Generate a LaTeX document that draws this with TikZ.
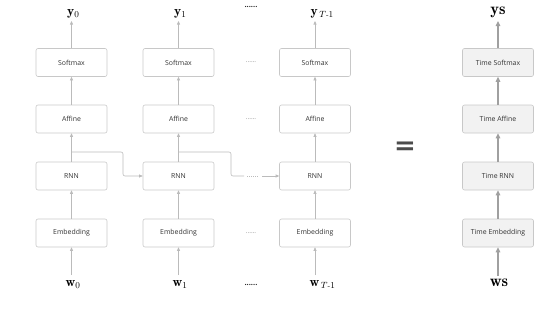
\documentclass[tikz,border=0pt]{standalone}
\usepackage{fontspec}
\setsansfont{Open Sans}
\newfontfamily\eqfont{DejaVu Sans}
\usetikzlibrary{arrows.meta,calc}
\definecolor{boxline}{HTML}{C8C8C8}
\definecolor{arrline}{HTML}{BBBBBB}
\definecolor{tarr}{HTML}{A0A0A0}
\definecolor{tfill}{HTML}{F2F2F2}
\begin{document}
\begin{tikzpicture}[x=1pt,y=-1pt,
  box/.style={draw=boxline,line width=0.6pt,rounded corners=2pt,minimum width=71pt,minimum height=28pt,inner sep=0pt,font=\sffamily\fontsize{6.9}{8}\selectfont,text=black!80},
  tbox/.style={box,fill=tfill},
  arr/.style={draw=arrline,line width=0.6pt,-{Triangle[length=3.5pt,width=3pt]}},
  tarrow/.style={draw=tarr,line width=1.1pt,-{Triangle[length=5pt,width=4.5pt]}},
  lbl/.style={inner sep=0pt,font=\fontsize{13.5}{14}\selectfont},
  tlbl/.style={inner sep=0pt,font=\fontsize{16.5}{17}\selectfont},
  dotsbig/.style={inner sep=0pt,font=\sffamily\bfseries\fontsize{7.5}{7.5}\selectfont,text=black!85},
  dotssmall/.style={inner sep=0pt,font=\sffamily\fontsize{6.5}{6.5}\selectfont,text=black!45},
]
\useasboundingbox (0,0) rectangle (546,309);
% column positions
\foreach \i/\x in {0/71.5,1/178.5,2/315}{
  \node[box] (s\i) at (\x,62.5) {Softmax};
  \node[box] (a\i) at (\x,119) {Affine};
  \node[box] (r\i) at (\x,176) {RNN};
  \node[box] (e\i) at (\x,233) {Embedding};
}
\node[lbl,anchor=south west] (y0) at (67,18) {$\mathbf{y}_0$};
\node[lbl,anchor=south west] (y1) at (174,18) {$\mathbf{y}_1$};
\node[lbl,anchor=south west] (y2) at (310.5,18) {$\mathbf{y}_{\,T\mbox{\scriptsize -}1}$};
\node[lbl,anchor=north west] (w0) at (65.5,280) {$\mathbf{w}_0$};
\node[lbl,anchor=north west] (w1) at (172.5,280) {$\mathbf{w}_1$};
\node[lbl,anchor=north west] (w2) at (309.5,280) {$\mathbf{w}_{\,T\mbox{\scriptsize -}1}$};
\foreach \i in {0,1,2}{
  \draw[arr] (e\i) -- (r\i);
  \draw[arr] (r\i) -- (a\i);
  \draw[arr] (a\i) -- (s\i);
  \draw[arr] (s\i.north) -- (s\i.north |- 0,21);
  \draw[arr] (e\i.south |- 0,275) -- (e\i.south);
}
% recurrent links
\coordinate (j0) at (71.5,152);
\coordinate (k0) at (123,152);
\draw[arr,rounded corners=2pt] (j0) -- (k0) |- (r1.west);
\coordinate (j1) at (178.5,152);
\coordinate (k1) at (231,152);
\coordinate (d1) at (244,176);
\coordinate (d2) at (258,176);
\draw[draw=arrline,line width=0.6pt,rounded corners=2pt] (j1) -- (k1) |- (d1);
\draw[draw=arrline,line width=0.6pt,dash pattern=on 0.8pt off 1.2pt] (d1) ++(3,0) -- (d2);
\draw[arr] (d2) ++(4,0) -- (r2.west);
% ellipses
\node[dotsbig] (p1) at (251,7) {......};
\node[dotssmall] (p2) at (251,62.5) {......};
\node[dotssmall] (p3) at (251,119) {......};
\node[dotssmall] (p4) at (251,233) {......};
\node[dotsbig] (p5) at (251,285) {......};
% equals
\node[inner sep=0pt,font=\eqfont\bfseries\fontsize{26}{26}\selectfont,text=black!70] (eq) at (405,148) {=};
% right column
\node[tbox] (ts) at (498,62.5) {Time Softmax};
\node[tbox] (ta) at (498,119) {Time Affine};
\node[tbox] (tr) at (498,176) {Time RNN};
\node[tbox] (te) at (498,233) {Time Embedding};
\node[tlbl,anchor=south] (ys) at (498,18) {$\mathbf{ys}$};
\node[tlbl,anchor=north] (ws) at (499,279) {$\mathbf{ws}$};
\draw[tarrow] (te) -- (tr);
\draw[tarrow] (tr) -- (ta);
\draw[tarrow] (ta) -- (ts);
\draw[tarrow] (ts.north) -- (ts.north |- 0,21);
\draw[tarrow] (te.south |- 0,276) -- (te.south);
\end{tikzpicture}
\end{document}
